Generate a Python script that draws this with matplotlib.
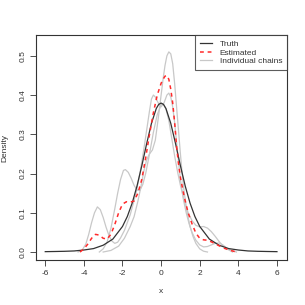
import matplotlib
matplotlib.use("Agg")
import matplotlib.pyplot as plt
from matplotlib.lines import Line2D

plt.rcParams['font.family'] = ['Liberation Sans', 'DejaVu Sans']

# Truth density
truth_x = [-6, -5.5, -5, -4.5, -4, -3.5, -3, -2.5, -2, -1.75, -1.5, -1.25, -1, -0.75, -0.5, -0.25,
           -0.125, 0, 0.125, 0.25, 0.5, 0.75, 1, 1.25, 1.5, 1.75, 2, 2.5, 3, 3.5, 4, 4.5, 5, 5.5, 6]
truth_y = [0.0009, 0.0013, 0.0018, 0.0027, 0.0051, 0.0087, 0.0173, 0.0329, 0.0651, 0.0905, 0.1245,
           0.1679, 0.2197, 0.2757, 0.3279, 0.3657, 0.3761, 0.3796, 0.3761, 0.3657, 0.3279, 0.2757,
           0.2197, 0.1679, 0.1245, 0.0905, 0.0651, 0.0329, 0.0173, 0.0087, 0.0051, 0.0027, 0.0018,
           0.0013, 0.0009]

# Estimated density (red dashed)
est_x = [-4.2, -4.0, -3.8, -3.6, -3.4, -3.2, -3.0, -2.8, -2.6, -2.4, -2.2, -2.0, -1.8, -1.6, -1.4,
         -1.2, -1.0, -0.8, -0.6, -0.4, -0.2, 0.0, 0.1, 0.2, 0.3, 0.4, 0.5, 0.6, 0.7, 0.8, 0.9, 1.0,
         1.2, 1.4, 1.6, 1.8, 2.0, 2.2, 2.4, 2.6, 2.8, 3.0, 3.3, 3.6, 3.9]
est_y = [0.0, 0.008, 0.02, 0.035, 0.045, 0.043, 0.035, 0.033, 0.045, 0.07, 0.10, 0.122, 0.128,
         0.127, 0.13, 0.15, 0.185, 0.24, 0.30, 0.355, 0.40, 0.43, 0.44, 0.448, 0.45, 0.44, 0.415,
         0.38, 0.33, 0.27, 0.225, 0.19, 0.14, 0.10, 0.072, 0.048, 0.035, 0.031, 0.030, 0.026, 0.021,
         0.016, 0.009, 0.004, 0.0]

# Individual chains (light grey)
chain1_x = [-4.3, -4.1, -3.9, -3.75, -3.6, -3.45, -3.3, -3.15, -3.0, -2.85, -2.7, -2.55, -2.4,
            -2.25, -2.1, -1.9, -1.6, -1.3, -1.1, -0.9, -0.75, -0.6, -0.5, -0.4, -0.3, -0.15, 0.0,
            0.15, 0.3, 0.4, 0.5, 0.6, 0.7, 0.8, 0.9, 1.0, 1.15, 1.3, 1.45, 1.6, 1.8, 2.0, 2.2, 2.4,
            2.6, 2.8, 3.0, 3.2, 3.4, 3.6, 3.9]
chain1_y = [0.0, 0.004, 0.02, 0.045, 0.075, 0.10, 0.115, 0.108, 0.088, 0.063, 0.042, 0.028, 0.022,
            0.025, 0.036, 0.055, 0.095, 0.15, 0.20, 0.26, 0.31, 0.36, 0.39, 0.40, 0.395, 0.38, 0.37,
            0.38, 0.40, 0.405, 0.395, 0.37, 0.33, 0.28, 0.23, 0.185, 0.135, 0.10, 0.072, 0.05, 0.03,
            0.018, 0.013, 0.014, 0.018, 0.022, 0.023, 0.018, 0.01, 0.005, 0.0]
chain2_x = [-3.2, -3.0, -2.8, -2.6, -2.4, -2.25, -2.1, -1.95, -1.85, -1.7, -1.55, -1.4, -1.25,
            -1.1, -0.95, -0.8, -0.6, -0.4, -0.2, 0.0, 0.1, 0.25, 0.4, 0.55, 0.7, 0.85, 1.0, 1.2,
            1.4, 1.6, 1.8, 2.0, 2.2, 2.4, 2.6, 2.8, 3.0, 3.2, 3.4, 3.7]
chain2_y = [0.0, 0.008, 0.025, 0.06, 0.11, 0.15, 0.185, 0.208, 0.21, 0.203, 0.188, 0.17, 0.158,
            0.157, 0.172, 0.20, 0.25, 0.305, 0.35, 0.375, 0.378, 0.365, 0.335, 0.29, 0.245, 0.205,
            0.17, 0.13, 0.10, 0.08, 0.068, 0.064, 0.065, 0.061, 0.052, 0.04, 0.027, 0.016, 0.008,
            0.0]
chain3_x = [-3.0, -2.6, -2.2, -1.9, -1.6, -1.4, -1.2, -1.05, -0.9, -0.75, -0.6, -0.45, -0.3,
            -0.15, 0.0, 0.1, 0.2, 0.3, 0.4, 0.5, 0.6, 0.7, 0.8, 0.9, 1.0, 1.1, 1.2, 1.35, 1.5,
            1.65, 1.8, 2.0, 2.2, 2.4]
chain3_y = [0.0, 0.004, 0.015, 0.035, 0.065, 0.09, 0.13, 0.165, 0.205, 0.235, 0.25, 0.26, 0.285,
            0.34, 0.40, 0.44, 0.475, 0.50, 0.51, 0.505, 0.48, 0.43, 0.37, 0.31, 0.25, 0.195, 0.15,
            0.10, 0.065, 0.04, 0.022, 0.008, 0.002, 0.0]
chains = [(chain1_x, chain1_y), (chain2_x, chain2_y), (chain3_x, chain3_y)]

fig = plt.figure(figsize=(3.05, 3.05), dpi=100)
ax = fig.add_axes([0.118, 0.1475, 0.823, 0.7377])

grey = '#c8c8c8'
dark = '#333333'
red = '#ff2a2a'
for cx, cy in chains:
    ax.plot(cx, cy, color=grey, lw=0.9)
ax.plot(truth_x, truth_y, color=dark, lw=0.9)
ax.plot(est_x, est_y, color=red, lw=1.1, linestyle=(0, (2.5, 2.5)))

ax.set_xlim(-6.48, 6.52)
ax.set_ylim(-0.0204, 0.553)
ax.set_xticks([-6, -4, -2, 0, 2, 4, 6])
ax.set_xticklabels(['-6', '-4', '-2', '0', '2', '4', '6'])
ax.set_yticks([0.0, 0.1, 0.2, 0.3, 0.4, 0.5])
ax.set_yticklabels(['0.0', '0.1', '0.2', '0.3', '0.4', '0.5'], rotation=90, va='center')
ax.tick_params(direction='out', length=4, width=0.6, labelsize=6, pad=3, colors=dark)
for s in ax.spines.values():
    s.set_linewidth(0.8)
    s.set_color(dark)
ax.set_xlabel('x', fontsize=6, labelpad=8, color=dark)
ax.set_ylabel('Density', fontsize=6, labelpad=8, color=dark)

handles = [Line2D([], [], color=dark, lw=0.9),
           Line2D([], [], color=red, lw=1.1, linestyle=(0, (2.5, 2.5))),
           Line2D([], [], color=grey, lw=0.9)]
leg = ax.legend(handles, ['Truth', 'Estimated', 'Individual chains'], loc='upper right',
                bbox_to_anchor=(1.0, 1.0), fontsize=6, frameon=True, fancybox=False,
                edgecolor=dark, borderaxespad=0, handlelength=1.5, handletextpad=0.9,
                labelspacing=0.1, borderpad=0.6)
leg.get_frame().set_linewidth(0.8)
for t in leg.get_texts():
    t.set_color(dark)

fig.savefig('out.png', dpi=100)
